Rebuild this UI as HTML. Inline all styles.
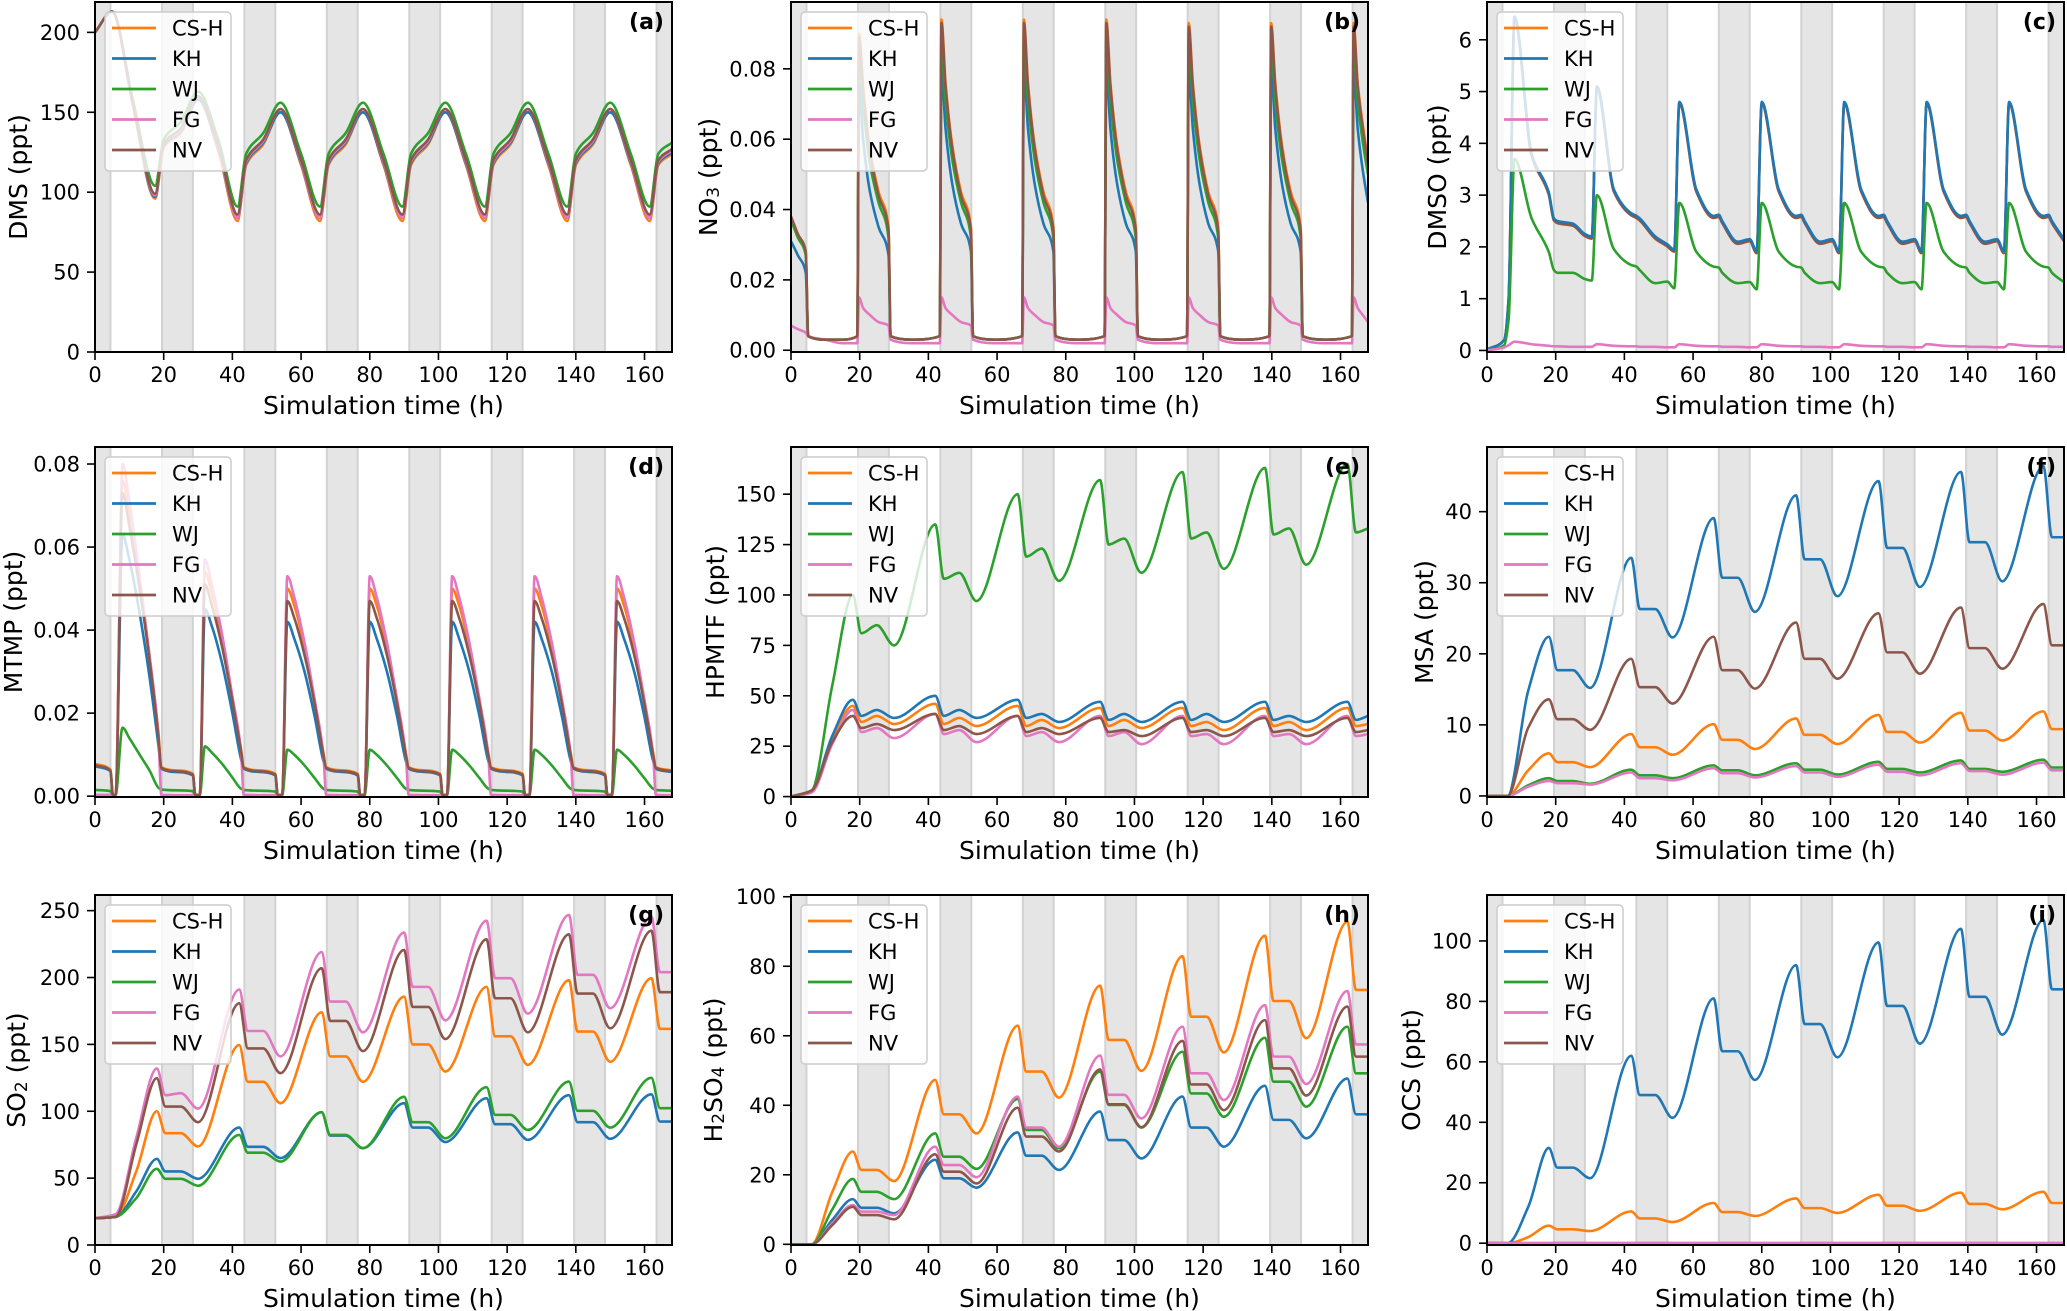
<!DOCTYPE html>
<html><head><meta charset="utf-8">
<style>
html,body{margin:0;padding:0;background:#fff;}
svg{display:block;font-family:"DejaVu Sans","Liberation Sans",sans-serif;}
</style></head>
<body>
<svg id="fig" width="2067" height="1311" viewBox="0 0 2067 1311" xmlns="http://www.w3.org/2000/svg"></svg>
<script>
// ---------- shared data ----------
const seriesNames = ["CS-H","KH","WJ","FG","NV"];
const nightStarts = [-4.5,19.5,43.5,67.5,91.5,115.5,139.5,163.5];
const nightLength = 9;
const xTicks = [0,20,40,60,80,100,120,140,160];

// ---------- (a) DMS ----------
const tA = [0,5,11,17.5,20,25,30,36,41.5,44,49,54,60,65.5,68,73,78,84,89.5,92,97,102,108,113.5,116,121,126,132,137.5,140,145,150,156,161.5,164,168];
const dmsCSH = [200,213,155,96,128,137,158,125,82,117,130,150,117,82,117,130,150,117,82,117,130,150,117,82,117,130,150,117,82,117,130,150,117,82,117,124];
const dmsKH  = [200,213,155,97,129,138,158,126,84,118,131,150,118,84,118,131,150,118,84,118,131,150,118,84,118,131,150,118,84,118,131,150,118,84,118,125];
const dmsWJ  = [200,213,158,104,133,144,163,132,91,124,137,156,124,91,124,137,156,124,91,124,137,156,124,91,124,137,156,124,91,124,137,156,124,91,124,131];
const dmsFG  = [200,213,156,98,130,139,160,127,84,119,132,152,119,84,119,132,152,119,84,119,132,152,119,84,119,132,152,119,84,119,132,152,119,84,119,126];
const dmsNV  = [200,213,156,99,130,140,160,128,86,120,133,152,120,86,120,133,152,120,86,120,133,152,120,86,120,133,152,120,86,120,133,152,120,86,120,127];

// ---------- (b) NO3 ----------
const tB = [0,2,4.3,5,10,15,19.3, 19.8,21,23,25.5,28.4,29,35,43.3, 43.8,45,47,49.5,52.4,53,59,67.3, 67.8,69,71,73.5,76.4,77,83,91.3, 91.8,93,95,97.5,100.4,101,107,115.3, 115.8,117,119,121.5,124.4,125,131,139.3, 139.8,141,143,145.5,148.4,149,155,163.3, 163.8,165,166.5,168];
const no3CSH = [0.038,0.033,0.028,0.004,0.003,0.003,0.004, 0.090,0.075,0.057,0.045,0.035,0.004,0.003,0.004, 0.094,0.076,0.058,0.045,0.035,0.004,0.003,0.004, 0.094,0.076,0.058,0.045,0.035,0.004,0.003,0.004, 0.094,0.076,0.058,0.045,0.035,0.004,0.003,0.004, 0.093,0.076,0.058,0.045,0.035,0.004,0.003,0.004, 0.093,0.076,0.058,0.045,0.035,0.004,0.003,0.004, 0.093,0.076,0.064,0.054];
const no3KH  = [0.031,0.027,0.022,0.004,0.003,0.003,0.004, 0.076,0.060,0.045,0.035,0.027,0.004,0.003,0.004, 0.080,0.063,0.047,0.036,0.028,0.004,0.003,0.004, 0.080,0.063,0.047,0.036,0.028,0.004,0.003,0.004, 0.080,0.063,0.047,0.036,0.028,0.004,0.003,0.004, 0.080,0.063,0.047,0.036,0.028,0.004,0.003,0.004, 0.080,0.063,0.047,0.036,0.028,0.004,0.003,0.004, 0.080,0.063,0.051,0.042];
const no3WJ  = [0.037,0.032,0.027,0.004,0.003,0.003,0.004, 0.085,0.070,0.053,0.042,0.032,0.004,0.003,0.004, 0.088,0.071,0.054,0.042,0.032,0.004,0.003,0.004, 0.088,0.071,0.054,0.042,0.032,0.004,0.003,0.004, 0.088,0.071,0.054,0.042,0.032,0.004,0.003,0.004, 0.088,0.071,0.054,0.042,0.032,0.004,0.003,0.004, 0.088,0.071,0.054,0.042,0.032,0.004,0.003,0.004, 0.088,0.071,0.059,0.050];
const no3FG  = [0.007,0.006,0.005,0.004,0.003,0.002,0.002, 0.015,0.012,0.010,0.008,0.007,0.003,0.002,0.002, 0.015,0.012,0.010,0.008,0.007,0.003,0.002,0.002, 0.015,0.012,0.010,0.008,0.007,0.003,0.002,0.002, 0.015,0.012,0.010,0.008,0.007,0.003,0.002,0.002, 0.015,0.012,0.010,0.008,0.007,0.003,0.002,0.002, 0.015,0.012,0.010,0.008,0.007,0.003,0.002,0.002, 0.015,0.012,0.010,0.008];
const no3NV  = [0.038,0.033,0.028,0.004,0.003,0.003,0.004, 0.089,0.074,0.056,0.044,0.034,0.004,0.003,0.004, 0.093,0.075,0.057,0.044,0.034,0.004,0.003,0.004, 0.093,0.075,0.057,0.044,0.034,0.004,0.003,0.004, 0.093,0.075,0.057,0.044,0.034,0.004,0.003,0.004, 0.092,0.075,0.057,0.044,0.034,0.004,0.003,0.004, 0.092,0.075,0.057,0.044,0.034,0.004,0.003,0.004, 0.092,0.075,0.063,0.053];

// ---------- (c) DMSO ----------
const tC = [0,5,6.3, 8,13,18,19.5,20.5,25,28.5,30.5, 32,37,42,43.5,44.5,49,52.5,54.5, 56,61,66,67.5,68.5,73,76.5,78.5, 80,85,90,91.5,92.5,97,100.5,102.5, 104,109,114,115.5,116.5,121,124.5,126.5, 128,133,138,139.5,140.5,145,148.5,150.5, 152,157,162,163.5,164.5,168];
const dmsoKH  = [0.02,0.2,1.0, 6.45,3.8,3.05,2.55,2.5,2.45,2.25,2.2, 5.1,3.1,2.65,2.6,2.55,2.2,2.05,1.95, 4.8,3.1,2.6,2.62,2.5,2.1,2.15,1.92, 4.8,3.1,2.6,2.62,2.5,2.1,2.15,1.92, 4.8,3.1,2.6,2.62,2.5,2.1,2.15,1.92, 4.8,3.1,2.6,2.62,2.5,2.1,2.15,1.92, 4.8,3.1,2.6,2.62,2.5,2.15];
const dmsoCSH = [0.02,0.2,1.0, 6.41,3.76,3.01,2.51,2.46,2.41,2.21,2.16, 5.06,3.06,2.61,2.56,2.51,2.16,2.01,1.91, 4.76,3.06,2.56,2.58,2.46,2.06,2.11,1.88, 4.76,3.06,2.56,2.58,2.46,2.06,2.11,1.88, 4.76,3.06,2.56,2.58,2.46,2.06,2.11,1.88, 4.76,3.06,2.56,2.58,2.46,2.06,2.11,1.88, 4.76,3.06,2.56,2.58,2.46,2.11];
const dmsoWJ  = [0.0,0.1,0.6, 3.7,2.55,1.9,1.55,1.5,1.5,1.38,1.35, 3.0,1.95,1.65,1.62,1.55,1.3,1.33,1.2, 2.85,1.9,1.62,1.6,1.5,1.3,1.32,1.18, 2.85,1.9,1.62,1.6,1.5,1.3,1.32,1.18, 2.85,1.9,1.62,1.6,1.5,1.3,1.32,1.18, 2.85,1.9,1.62,1.6,1.5,1.3,1.32,1.18, 2.85,1.9,1.62,1.6,1.5,1.32];
const dmsoFG  = [0.0,0.06,0.1, 0.17,0.12,0.09,0.08,0.08,0.07,0.07,0.07, 0.12,0.09,0.08,0.08,0.07,0.07,0.06,0.06, 0.12,0.09,0.08,0.08,0.07,0.07,0.06,0.06, 0.12,0.09,0.08,0.08,0.07,0.07,0.06,0.06, 0.12,0.09,0.08,0.08,0.07,0.07,0.06,0.06, 0.12,0.09,0.08,0.08,0.07,0.07,0.06,0.06, 0.12,0.09,0.08,0.08,0.07,0.07];
const dmsoNV  = dmsoCSH.slice();

// ---------- (d) MTMP ----------
const tD = [0,4.5,5.2,6.0, 8,10,13,16,18.5,19.3,28.5,29.2,30.5, 32,34,37,40,42.5,43.3,52.5,53.2,54.5, 56,58,61,64,66.5,67.3,76.5,77.2,78.5, 80,82,85,88,90.5,91.3,100.5,101.2,102.5, 104,106,109,112,114.5,115.3,124.5,125.2,126.5, 128,130,133,136,138.5,139.3,148.5,149.2,150.5, 152,154,157,160,162.5,163.3, 168];
const mtmpCSH = [0.0078,0.0064,0.0003,0.0003, 0.076,0.068,0.052,0.033,0.015,0.0070,0.0054,0.0003,0.0003, 0.054,0.049,0.038,0.024,0.0115,0.0070,0.0054,0.0003,0.0003, 0.050,0.046,0.036,0.023,0.0105,0.0070,0.0054,0.0003,0.0003, 0.050,0.046,0.036,0.023,0.0105,0.0070,0.0054,0.0003,0.0003, 0.050,0.046,0.036,0.023,0.0105,0.0070,0.0054,0.0003,0.0003, 0.050,0.046,0.036,0.023,0.0105,0.0070,0.0054,0.0003,0.0003, 0.050,0.046,0.036,0.023,0.0105,0.0070, 0.0062];
const mtmpKH  = [0.0072,0.0060,0.0003,0.0003, 0.063,0.057,0.044,0.028,0.012,0.0066,0.0050,0.0003,0.0003, 0.045,0.041,0.032,0.020,0.009,0.0066,0.0050,0.0003,0.0003, 0.042,0.038,0.030,0.019,0.0085,0.0066,0.0050,0.0003,0.0003, 0.042,0.038,0.030,0.019,0.0085,0.0066,0.0050,0.0003,0.0003, 0.042,0.038,0.030,0.019,0.0085,0.0066,0.0050,0.0003,0.0003, 0.042,0.038,0.030,0.019,0.0085,0.0066,0.0050,0.0003,0.0003, 0.042,0.038,0.030,0.019,0.0085,0.0066, 0.0058];
const mtmpWJ  = [0.0015,0.0012,0.0003,0.0003, 0.0165,0.014,0.010,0.006,0.002,0.0016,0.0012,0.0003,0.0003, 0.012,0.0105,0.0078,0.0045,0.0018,0.0015,0.0011,0.0003,0.0003, 0.0112,0.0100,0.0074,0.0043,0.0018,0.0015,0.0011,0.0003,0.0003, 0.0112,0.0100,0.0074,0.0043,0.0018,0.0015,0.0011,0.0003,0.0003, 0.0112,0.0100,0.0074,0.0043,0.0018,0.0015,0.0011,0.0003,0.0003, 0.0112,0.0100,0.0074,0.0043,0.0018,0.0015,0.0011,0.0003,0.0003, 0.0112,0.0100,0.0074,0.0043,0.0018,0.0015, 0.0013];
const mtmpFG  = [0.0003,0.0003,0.0003,0.0003, 0.080,0.071,0.053,0.033,0.014,0.0003,0.0002,0.0002,0.0002, 0.057,0.051,0.039,0.024,0.011,0.0003,0.0002,0.0002,0.0002, 0.053,0.048,0.037,0.023,0.010,0.0003,0.0002,0.0002,0.0002, 0.053,0.048,0.037,0.023,0.010,0.0003,0.0002,0.0002,0.0002, 0.053,0.048,0.037,0.023,0.010,0.0003,0.0002,0.0002,0.0002, 0.053,0.048,0.037,0.023,0.010,0.0003,0.0002,0.0002,0.0002, 0.053,0.048,0.037,0.023,0.010,0.0003, 0.0002];
const mtmpNV  = [0.0075,0.0062,0.0003,0.0003, 0.073,0.065,0.050,0.032,0.014,0.0068,0.0052,0.0003,0.0003, 0.051,0.046,0.036,0.023,0.011,0.0068,0.0052,0.0003,0.0003, 0.047,0.043,0.034,0.022,0.010,0.0068,0.0052,0.0003,0.0003, 0.047,0.043,0.034,0.022,0.010,0.0068,0.0052,0.0003,0.0003, 0.047,0.043,0.034,0.022,0.010,0.0068,0.0052,0.0003,0.0003, 0.047,0.043,0.034,0.022,0.010,0.0068,0.0052,0.0003,0.0003, 0.047,0.043,0.034,0.022,0.010,0.0068, 0.0060];

// ---------- accumulating species (e)-(i): shared sample times ----------
const tG = [0,6,12,18,20.5,25,30,42,44.5,49,54,66,68.5,73,78,90,92.5,97,102,114,116.5,121,126,138,140.5,145,150,162,164.5,168];

// (e) HPMTF
const hpCSH = [0,3,28, 45,37,40,36, 46,36,39,35, 45,35,38,34, 44,35,38,34, 44,35,37,33, 44,35,37,33, 44,35,36];
const hpKH  = [0,3,30, 48,40,43,39, 50,40,43,39, 48,39,41,37, 47,38,41,37, 47,38,41,37, 47,38,40,37, 47,38,40];
const hpWJ  = [0,3,55, 100,81,85,75, 135,108,111,97, 150,119,123,107, 157,125,128,111, 161,128,131,113, 163,130,133,115, 165,131,133];
const hpFG  = [0,2,26, 43,32,34,29, 41,31,33,27, 40,30,32,27, 40,30,32,26, 40,30,31,26, 40,30,31,26, 40,30,31];
const hpNV  = [0,3,27, 40,34,36,33, 41,33,35,31, 40,32,34,31, 39,32,33,30, 39,32,33,30, 39,32,33,30, 39,32,33];

// (f) MSA
const msaCSH = [0,0,3.6, 6.0,4.75,4.75,4.05, 8.7,6.85,6.85,5.8, 10.1,7.9,7.9,6.6, 10.9,8.6,8.6,7.3, 11.4,9.0,9.0,7.5, 11.7,9.2,9.2,7.8, 11.9,9.4,9.4];
const msaKH  = [0,0,14.8, 22.4,17.7,17.7,15.2, 33.5,26.3,26.3,22.3, 39.1,30.7,30.7,25.9, 42.3,33.3,33.3,28.1, 44.3,34.9,34.9,29.4, 45.6,35.7,35.7,30.2, 46.4,36.4,36.4];
const msaWJ  = [0,0,1.5, 2.5,2.1,2.1,1.7, 3.7,2.9,2.9,2.5, 4.3,3.6,3.6,2.9, 4.6,3.7,3.7,3.0, 4.8,3.8,3.8,3.3, 5.0,3.8,3.8,3.4, 5.1,4.0,4.0];
const msaFG  = [0,0,1.3, 2.1,1.8,1.8,1.6, 3.3,2.5,2.5,2.2, 3.9,3.2,3.2,2.6, 4.2,3.3,3.3,2.7, 4.4,3.4,3.4,2.9, 4.6,3.5,3.5,3.0, 4.7,3.6,3.6];
const msaNV  = [0,0,9.6, 13.6,10.8,10.8,9.3, 19.3,15.3,15.3,13.0, 22.4,17.7,17.7,15.1, 24.4,19.3,19.3,16.5, 25.7,20.2,20.2,17.2, 26.5,20.8,20.8,17.9, 27.0,21.2,21.2];

// (g) SO2
const so2CSH = [20,21,55, 100,83.6,83.6,73.7, 149.5,122,122,106, 174,141,141,122, 185.7,150,150,129.7, 193,156,156,134.7, 198,159.6,159.6,137, 199.5,161.6,161.6];
const so2KH  = [20,21,40, 64.4,55,55,49.5, 87.8,73.4,73.4,65, 99.3,81.8,81.8,72.4, 106,87.8,87.8,77, 109.8,90.3,90.3,78.6, 112,91.8,91.8,79.4, 112.7,92.3,92.3];
const so2WJ  = [20,21,35, 57,49.5,49.5,44.3, 82.3,69,69,62.4, 99.3,82.3,82.3,72.4, 110.8,91.8,91.8,79.8, 118,97.3,97.3,86, 122.2,100.3,100.3,87.8, 125,102.3,102.3];
const so2FG  = [20,23,80, 132,112,113.5,102, 191,160,160,141, 219,182,182,159, 233.6,193,193,168, 242.5,199.5,199.5,173, 246.8,202,202,177, 245.6,204,204];
const so2NV  = [20,21,75, 124.7,103.5,103.5,91.8, 180.7,147,147,128.5, 207,167.5,167.5,145, 220.6,178,178,154, 228.6,184.5,184.5,159, 232.3,188,188,162, 235,189,189];

// (h) H2SO4
const h2CSH = [0,0,15, 26.7,21.4,21.4,18.2, 47.3,37.4,37.4,31.9, 62.9,49.7,49.7,42.2, 74.4,58.8,58.8,49.9, 82.9,65.5,65.5,55.2, 88.8,70,70,59.3, 92.8,73.2,73.2];
const h2KH  = [0,0,7, 13,10.5,10.5,8.9, 24.3,19,19,16.3, 32.2,25.5,25.5,21.4, 38.2,30,30,24.7, 42.5,33.6,33.6,28.1, 45.6,35.8,35.8,30.5, 47.7,37.4,37.4];
const h2WJ  = [0,0,10, 18.8,15.1,15.1,13, 31.9,25.2,25.2,21.7, 41.8,32.9,32.9,27.6, 49.7,40.1,40.1,33.6, 55.4,43.4,43.4,36.7, 59.4,46.8,46.8,39.6, 62.6,49.2,49.2];
const h2FG  = [0,0,6, 11.3,9.4,9.4,8.4, 28.1,22.8,22.8,19.3, 42.5,33.6,33.6,28.1, 54.3,43,43,36.2, 62.6,49.2,49.2,41.5, 68.8,54,54,46.1, 72.9,57.5,57.5];
const h2NV  = [0,0,5.5, 10.8,8.4,8.4,7.2, 25.9,20.9,20.9,17.5, 39.3,31,31,26.7, 50.3,40.3,40.3,33.7, 58.5,46,46,38.6, 64.5,50.6,50.6,42.8, 68.4,54,54];

// (i) OCS
const ocsCSH = [0,0,2, 5.8,4.6,4.6,4.0, 10.5,8.2,8.2,7.0, 13.3,10.3,10.3,9.0, 14.8,11.6,11.6,10.0, 16.0,12.4,12.4,10.7, 16.7,13.0,13.0,11.2, 17.0,13.3,13.3];
const ocsKH  = [0,0,12, 31.5,25,25,21.5, 62,49,49,41.5, 81,63.5,63.5,54, 92,72.5,72.5,61.5, 99.5,78.5,78.5,66, 104,81.5,81.5,69, 107,84,84];
const ocsWJ  = [0,0,0,0,0,0,0,0,0,0,0,0,0,0,0,0,0,0,0,0,0,0,0,0,0,0,0,0,0,0];
const ocsFG  = [0,0,0,0,0,0,0,0,0,0,0,0,0,0,0,0,0,0,0,0,0,0,0,0,0,0,0,0,0,0];
const ocsNV  = [0,0,0,0,0,0,0,0,0,0,0,0,0,0,0,0,0,0,0,0,0,0,0,0,0,0,0,0,0,0];

// ---------- tick labels ----------
const yTicksA = [0,50,100,150,200];
const yTicksB = [0,0.02,0.04,0.06,0.08];
const yTicksC = [0,1,2,3,4,5,6];
const yTicksD = [0,0.02,0.04,0.06,0.08];
const yTicksE = [0,25,50,75,100,125,150];
const yTicksF = [0,10,20,30,40];
const yTicksG = [0,50,100,150,200,250];
const yTicksH = [0,20,40,60,80,100];
const yTicksI = [0,20,40,60,80,100];

const colors = {"CS-H":"#ff7f0e","KH":"#1f77b4","WJ":"#2ca02c","FG":"#e377c2","NV":"#8c564b"};
const orderStd = ["CS-H","KH","WJ","FG","NV"];
const orderHidden = ["CS-H","NV","KH","WJ","FG"];

const panels = [
 {id:"a",x0:95,y0:2,ymin:0,ymax:219,ticks:yTicksA,dec:0,label:["DMS (ppt)"],lx:18,t:tA,o:orderStd,s:{"CS-H":dmsCSH,"KH":dmsKH,"WJ":dmsWJ,"FG":dmsFG,"NV":dmsNV}},
 {id:"b",x0:791,y0:2,ymin:-0.0005,ymax:0.099,ticks:yTicksB,dec:2,label:["NO","3"," (ppt)"],lx:708,t:tB,o:orderStd,s:{"CS-H":no3CSH,"KH":no3KH,"WJ":no3WJ,"FG":no3FG,"NV":no3NV}},
 {id:"c",x0:1487,y0:2,ymin:-0.03,ymax:6.73,ticks:yTicksC,dec:0,label:["DMSO (ppt)"],lx:1437,t:tC,o:orderHidden,s:{"CS-H":dmsoCSH,"KH":dmsoKH,"WJ":dmsoWJ,"FG":dmsoFG,"NV":dmsoNV}},
 {id:"d",x0:95,y0:447,ymin:-0.0002,ymax:0.0841,ticks:yTicksD,dec:2,label:["MTMP (ppt)"],lx:13,t:tD,o:orderStd,s:{"CS-H":mtmpCSH,"KH":mtmpKH,"WJ":mtmpWJ,"FG":mtmpFG,"NV":mtmpNV}},
 {id:"e",x0:791,y0:447,ymin:-0.2,ymax:173.4,ticks:yTicksE,dec:0,label:["HPMTF (ppt)"],lx:715,t:tG,o:orderStd,s:{"CS-H":hpCSH,"KH":hpKH,"WJ":hpWJ,"FG":hpFG,"NV":hpNV}},
 {id:"f",x0:1487,y0:447,ymin:-0.15,ymax:49.1,ticks:yTicksF,dec:0,label:["MSA (ppt)"],lx:1424,t:tG,o:orderStd,s:{"CS-H":msaCSH,"KH":msaKH,"WJ":msaWJ,"FG":msaFG,"NV":msaNV}},
 {id:"g",x0:95,y0:895,ymin:0,ymax:261.7,ticks:yTicksG,dec:0,label:["SO","2"," (ppt)"],lx:16,t:tG,o:orderStd,s:{"CS-H":so2CSH,"KH":so2KH,"WJ":so2WJ,"FG":so2FG,"NV":so2NV}},
 {id:"h",x0:791,y0:895,ymin:-0.2,ymax:100.5,ticks:yTicksH,dec:0,label:["H","2","SO","4"," (ppt)"],lx:713,t:tG,o:orderStd,s:{"CS-H":h2CSH,"KH":h2KH,"WJ":h2WJ,"FG":h2FG,"NV":h2NV}},
 {id:"i",x0:1487,y0:895,ymin:-0.6,ymax:115.2,ticks:yTicksI,dec:0,label:["OCS (ppt)"],lx:1411,t:tG,o:orderHidden,s:{"CS-H":ocsCSH,"KH":ocsKH,"WJ":ocsWJ,"FG":ocsFG,"NV":ocsNV}}
];
const W = 577, H = 350, XMAX = 168;

const NS = "http://www.w3.org/2000/svg";
const svg = document.getElementById("fig");
function mk(tag, attrs, parent){
  const e = document.createElementNS(NS, tag);
  for (const k in attrs) e.setAttribute(k, attrs[k]);
  (parent||svg).appendChild(e);
  return e;
}
function monoPath(px, py){
  const n = px.length;
  if (n < 2) return "";
  const dx=[], m=[];
  for (let i=0;i<n-1;i++){ dx.push(px[i+1]-px[i]); m.push((py[i+1]-py[i])/(px[i+1]-px[i])); }
  const tg=[m[0]];
  for (let i=1;i<n-1;i++){
    if (m[i-1]*m[i] <= 0) tg.push(0);
    else { const w1=2*dx[i]+dx[i-1], w2=dx[i]+2*dx[i-1]; tg.push((w1+w2)/(w1/m[i-1]+w2/m[i])); }
  }
  tg.push(m[n-2]);
  let d = "M"+px[0].toFixed(2)+","+py[0].toFixed(2);
  for (let i=0;i<n-1;i++){
    const h = dx[i]/3;
    d += "C"+(px[i]+h).toFixed(2)+","+(py[i]+h*tg[i]).toFixed(2)+" "+(px[i+1]-h).toFixed(2)+","+(py[i+1]-h*tg[i+1]).toFixed(2)+" "+px[i+1].toFixed(2)+","+py[i+1].toFixed(2);
  }
  return d;
}

panels.forEach(p=>{
  const g = mk("g", {});
  
  
  const xs = t => p.x0 + t/XMAX*W;
  const ys = v => p.y0 + H - (v - p.ymin)/(p.ymax - p.ymin)*H;
  const clipId = "clip-"+p.id;
  const cp = mk("clipPath", {id:clipId}, g);
  mk("rect", {x:p.x0, y:p.y0, width:W, height:H}, cp);
  const bands = mk("g", {"clip-path":"url(#"+clipId+")"}, g);
  
  
  nightStarts.forEach(s=>{
    const a = xs(s), b = xs(s+nightLength);
    const r = mk("rect", {x:a, y:p.y0, width:b-a, height:H, fill:"#e5e5e5"}, bands);
    
    
    mk("line", {x1:a, x2:a, y1:p.y0, y2:p.y0+H, stroke:"#d2d2d2", "stroke-width":2}, bands);
    mk("line", {x1:b, x2:b, y1:p.y0, y2:p.y0+H, stroke:"#d2d2d2", "stroke-width":2}, bands);
  });
  const lines = mk("g", {"clip-path":"url(#"+clipId+")"}, g);
  p.o.forEach(name=>{
    const vals = p.s[name];
    const px = p.t.map(xs), py = vals.map(ys);
    const path = mk("path", {d:monoPath(px,py), fill:"none", stroke:colors[name], "stroke-width":2.6, "stroke-linejoin":"round"}, lines);
    
    
  });
  const fr = mk("rect", {x:p.x0, y:p.y0, width:W, height:H, fill:"none", stroke:"#000", "stroke-width":2}, g);
  
  
  xTicks.forEach(v=>{
    const x = xs(v);
    mk("line", {x1:x, x2:x, y1:p.y0+H, y2:p.y0+H+8, stroke:"#000", "stroke-width":1.6}, g);
    const tx = mk("text", {x:x, y:p.y0+H+30, "text-anchor":"middle", "font-size":21, fill:"#000"}, g);
    tx.textContent = v;
    
    
  });
  p.ticks.forEach(v=>{
    const y = ys(v);
    mk("line", {x1:p.x0-8, x2:p.x0, y1:y, y2:y, stroke:"#000", "stroke-width":1.6}, g);
    const ty = mk("text", {x:p.x0-15, y:y+7.5, "text-anchor":"end", "font-size":21, fill:"#000"}, g);
    ty.textContent = v.toFixed(p.dec);
    
    
  });
  const xl = mk("text", {x:p.x0+W/2, y:p.y0+H+62, "text-anchor":"middle", "font-size":25, fill:"#000"}, g);
  xl.textContent = "Simulation time (h)";
  
  
  const cy = p.y0 + H/2;
  const yl = mk("text", {x:p.lx, y:cy, "text-anchor":"middle", "dominant-baseline":"central", "font-size":25, fill:"#000", transform:"rotate(-90 "+p.lx+" "+cy+")"}, g);
  
  
  p.label.forEach((part, i)=>{
    const ts = mk("tspan", {}, yl);
    if (i % 2 === 1){ ts.setAttribute("font-size", 17); ts.setAttribute("dy", 6); }
    else if (i > 0){ ts.setAttribute("dy", -6); }
    ts.textContent = part;
  });
  const pl = mk("text", {x:p.x0+W-8, y:p.y0+27, "text-anchor":"end", "font-size":22, "font-weight":"bold", fill:"#000"}, g);
  pl.textContent = "("+p.id+")";
  
  
  const lg = mk("g", {}, g);
  
  
  mk("rect", {x:p.x0+10, y:p.y0+10, width:126, height:159, rx:4, fill:"#fff", "fill-opacity":0.8, stroke:"#cccccc", "stroke-width":1.5}, lg);
  seriesNames.forEach((name,i)=>{
    const cyL = p.y0 + 26 + 30.5*i;
    const ent = mk("g", {}, lg);
    
    
    mk("line", {x1:p.x0+17, x2:p.x0+61, y1:cyL, y2:cyL, stroke:colors[name], "stroke-width":2.8}, ent);
    const lt = mk("text", {x:p.x0+77, y:cyL+7.5, "font-size":21, fill:"#000"}, ent);
    lt.textContent = name;
  });
});
</script>
</body></html>
